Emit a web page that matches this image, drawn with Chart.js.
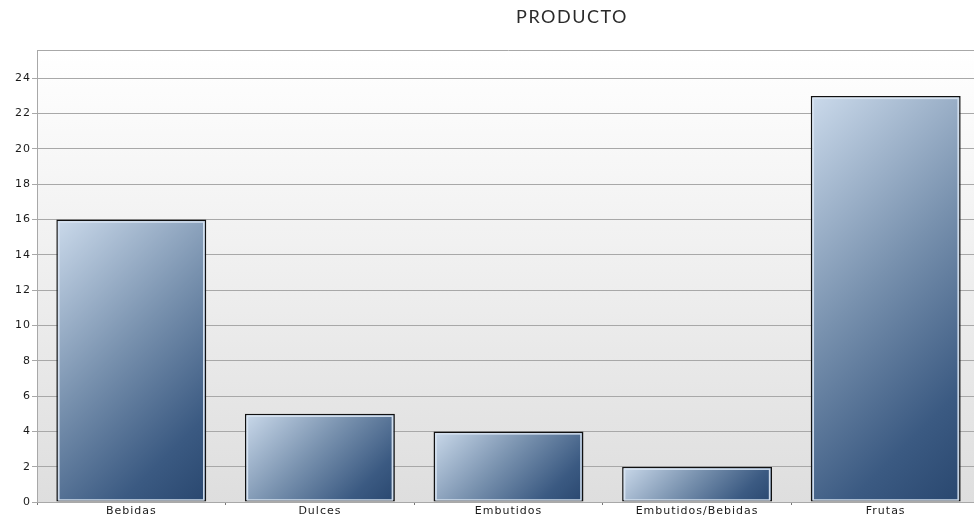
<!DOCTYPE html>
<html><head><meta charset="utf-8">
<script src="https://cdn.jsdelivr.net/npm/chart.js@4/dist/chart.umd.min.js"></script>
<style>
html,body{margin:0;padding:0;background:#fff;overflow:hidden;width:974px;height:518px;}
#wrap{position:relative;width:982px;height:518px;}
</style></head><body>
<div id="wrap"><canvas id="c"></canvas></div>
<script>
const categories = ["Bebidas","Dulces","Embutidos","Embutidos/Bebidas","Frutas"];
const values = [16, 5, 4, 2, 23];
const yTicks = [0,2,4,6,8,10,12,14,16,18,20,22,24];
const chartTitle = "PRODUCTO";

function barGradient(ctx){
  const chart = ctx.chart;
  const sx = chart.scales.x, sy = chart.scales.y;
  if(!sx || !sy || !chart.chartArea) return '#5a7498';
  const i = ctx.dataIndex;
  const cx = sx.getPixelForValue(i);
  const w = (sx.width / categories.length) * 0.795;
  const top = sy.getPixelForValue(values[i]);
  const base = sy.getPixelForValue(0);
  const h = base - top;
  const d = (w + h) / 2;
  const l = cx - w/2;
  const g = chart.ctx.createLinearGradient(l, top, l + d, top + d);
  g.addColorStop(0, '#cbdaeb');
  g.addColorStop(0.45, '#7891ae');
  g.addColorStop(0.8, '#3b5a82');
  g.addColorStop(1, '#29476f');
  return g;
}

const bgPlugin = {
  id:'bg',
  beforeDraw(chart){
    const {ctx, chartArea:a} = chart;
    const g = ctx.createLinearGradient(0, a.top, 0, a.bottom);
    g.addColorStop(0, '#ffffff');
    g.addColorStop(1, '#dedede');
    ctx.save();
    ctx.fillStyle = g;
    ctx.fillRect(a.left, a.top, a.right - a.left, a.bottom - a.top);
    ctx.strokeStyle = '#a8a8a8';
    ctx.lineWidth = 1;
    ctx.beginPath();
    ctx.moveTo(a.left, a.top + 0.5);
    ctx.lineTo(a.right, a.top + 0.5);
    ctx.stroke();
    ctx.restore();
    ctx.letterSpacing = '1px';
  },
  afterDatasetsDraw(chart){
    const {ctx} = chart;
    const meta = chart.getDatasetMeta(0);
    ctx.save();
    ctx.strokeStyle = 'rgba(216,228,241,0.95)';
    ctx.lineWidth = 1.5;
    meta.data.forEach(b => {
      const p = b.getProps(['x','y','base','width'], true);
      const l = p.x - p.width/2 + 2.5, r = p.x + p.width/2 - 2.5;
      const t = p.y + 2.5, bt = p.base - 1.5;
      ctx.strokeRect(l, t, r - l, bt - t);
    });
    ctx.restore();
  },
  afterDraw(chart){
    const {ctx} = chart;
    ctx.save();
    ctx.letterSpacing = '1.5px';
    ctx.font = '18px Lato, "Open Sans", sans-serif';
    ctx.fillStyle = '#2a2a2a';
    ctx.textAlign = 'center';
    ctx.textBaseline = 'middle';
    ctx.fillText(chartTitle, 572, 17);
    ctx.restore();
    ctx.letterSpacing = '0px';
  }
};

new Chart(document.getElementById('c'), {
  type:'bar',
  data:{
    labels: categories,
    datasets:[{
      data: values,
      backgroundColor: barGradient,
      borderColor:'#111111',
      borderWidth:1.5,
      borderSkipped:false,
      categoryPercentage:1,
      barPercentage:0.795
    }]
  },
  plugins:[bgPlugin],
  options:{
    responsive:true,
    maintainAspectRatio:false,
    animation:false,
    layout:{padding:{top:50,right:2,left:0,bottom:0}},
    plugins:{legend:{display:false},title:{display:false},tooltip:{enabled:false}},
    scales:{
      x:{
        offset:true,
        grid:{display:true, offset:true, drawOnChartArea:false, tickLength:3, color:'#777'},
        border:{display:false},
        ticks:{color:'#1a1a1a', font:{family:'"DejaVu Sans", Verdana, sans-serif', size:11}, padding:0, maxRotation:0, autoSkip:false},
        afterFit(s){ s.height = 16; }
      },
      y:{
        min:0, max:25.6,
        afterBuildTicks(s){ s.ticks = yTicks.map(v => ({value:v})); },
        grid:{color:'#a8a8a8', tickLength:5, lineWidth:1},
        border:{display:true, color:'#a8a8a8'},
        ticks:{color:'#1a1a1a', font:{family:'"DejaVu Sans", Verdana, sans-serif', size:11}, padding:1},
        afterFit(s){ s.width = 37; }
      }
    }
  }
});
</script>
</body></html>
